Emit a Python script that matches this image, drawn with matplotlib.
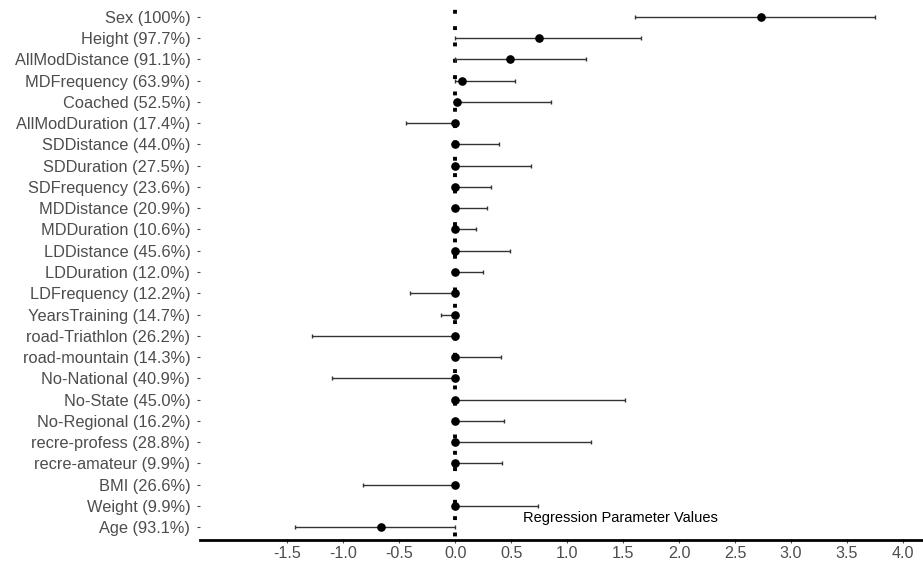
import matplotlib
matplotlib.use("Agg")
import matplotlib.pyplot as plt
import numpy as np

plt.rcParams["font.family"] = ["Liberation Sans", "DejaVu Sans"]

# regression parameters, top to bottom as shown
labels = [
    "Sex (100%)", "Height (97.7%)", "AllModDistance (91.1%)", "MDFrequency (63.9%)",
    "Coached (52.5%)", "AllModDuration (17.4%)", "SDDistance (44.0%)", "SDDuration (27.5%)",
    "SDFrequency (23.6%)", "MDDistance (20.9%)", "MDDuration (10.6%)", "LDDistance (45.6%)",
    "LDDuration (12.0%)", "LDFrequency (12.2%)", "YearsTraining (14.7%)",
    "road-Triathlon (26.2%)", "road-mountain (14.3%)", "No-National (40.9%)",
    "No-State (45.0%)", "No-Regional (16.2%)", "recre-profess (28.8%)",
    "recre-amateur (9.9%)", "BMI (26.6%)", "Weight (9.9%)", "Age (93.1%)",
]
estimate = [2.73, 0.75, 0.49, 0.06, 0.015, 0.0, 0.0, 0.0, 0.0, 0.0, 0.0, 0.0, 0.0,
            0.0, 0.0, 0.0, 0.0, 0.0, 0.0, 0.0, 0.0, -0.005, 0.0, 0.0, -0.66]
lower = [1.61, 0.0, 0.0, 0.0, 0.0, -0.44, 0.0, 0.0, 0.0, 0.0, 0.0, 0.0, 0.0,
         -0.40, -0.13, -1.28, 0.0, -1.10, 0.0, 0.0, 0.0, -0.005, -0.82, 0.0, -1.43]
upper = [3.75, 1.66, 1.17, 0.53, 0.86, 0.0, 0.39, 0.68, 0.32, 0.28, 0.19, 0.49, 0.25,
         0.0, 0.0, 0.0, 0.41, 0.0, 1.52, 0.44, 1.21, 0.42, 0.0, 0.74, 0.0]
xticks = [-1.5, -1.0, -0.5, 0.0, 0.5, 1.0, 1.5, 2.0, 2.5, 3.0, 3.5, 4.0]

est = np.array(estimate)
lo = np.array(lower)
hi = np.array(upper)
ypos = np.arange(len(labels))[::-1] + 1

fig = plt.figure(figsize=(9.23, 5.67), dpi=100)
ax = fig.add_axes([0.2167, 0.0476, 0.7833, 0.9454])

# dotted zero line, drawn top to bottom
ax.plot([0, 0], [25.6, 0.4], color="black", lw=2.8, linestyle=(2.7, (1, 3.2)), zorder=1)
ax.errorbar(est, ypos, xerr=[est - lo, hi - est], fmt="none", ecolor="#333333",
            elinewidth=1.0, capsize=1.5, capthick=1.0, zorder=2)
ax.plot(est, ypos, "o", color="black", ms=5.2, zorder=3)

ax.set_xlim(-2.28, 4.18)
ax.set_ylim(0.4, 25.6)
ax.set_yticks(ypos)
ax.set_yticklabels(labels)
ax.set_xticks(xticks)
ax.set_xticklabels([f"{t:.1f}" for t in xticks])

for s in ["top", "right", "left"]:
    ax.spines[s].set_visible(False)
ax.spines["bottom"].set_linewidth(2)
ax.spines["bottom"].set_color("black")

ax.tick_params(axis="y", colors="#4d4d4d", labelsize=11.8, length=2.5, width=0.8, pad=4.5)
ax.tick_params(axis="x", colors="#4d4d4d", labelsize=11.6, length=2, width=0.8, pad=2)

ax.text(1.48, 1.42, "Regression Parameter Values", ha="center", va="center",
        fontsize=10.5, color="black")

fig.savefig("out.png", dpi=100)
